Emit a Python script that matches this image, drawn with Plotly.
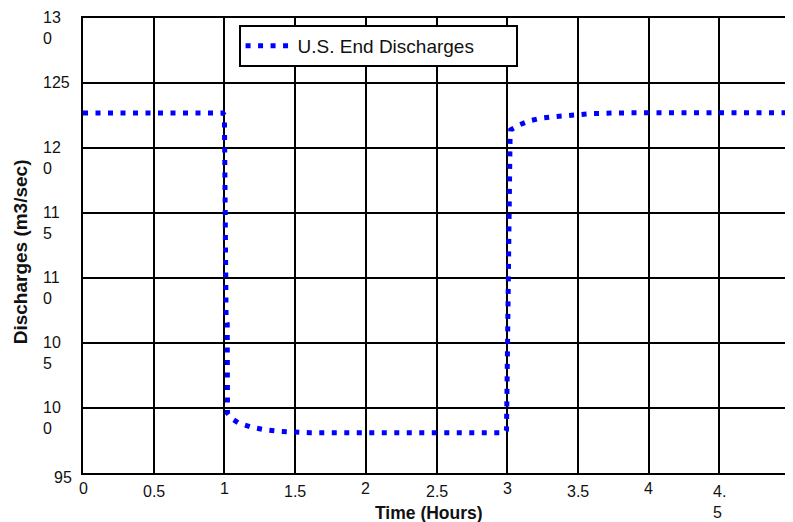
import plotly.graph_objects as go

# ---- data ----
time_hours = [0.0, 0.5, 0.99, 1.0, 1.004, 1.012, 1.02, 1.022, 1.05, 1.1, 1.2, 1.3, 1.4,
              1.5, 1.6, 2.0, 2.5, 2.985, 2.995, 3.0, 3.008, 3.016, 3.02, 3.025, 3.09, 3.16,
              3.24, 3.32, 3.41, 3.5, 3.6, 3.8, 4.0, 4.5, 5.0]
discharge = [122.7, 122.7, 122.7, 122.5, 107.5, 106.9, 106.5, 99.6, 99.2, 98.85, 98.5, 98.3, 98.2,
             98.13, 98.1, 98.1, 98.1, 98.1, 98.3, 104.0, 112.0, 120.0, 120.6, 121.4, 121.8, 122.1,
             122.3, 122.4, 122.5, 122.55, 122.65, 122.7, 122.72, 122.72, 122.72]

series_name = "U.S. End Discharges"
x_title = "Time (Hours)"
y_title = "Discharges (m3/sec)"

x_tick_vals = [0, 0.5, 1, 1.5, 2, 2.5, 3, 3.5, 4, 4.5, 5]
x_tick_text = ["0", "0.5", "1", "1.5", "2", "2.5", "3", "3.5", "4", "4.<br>5", "5"]
y_tick_vals = [95, 100, 105, 110, 115, 120, 125, 130]
y_tick_text = ["95", "10<br>0", "10<br>5", "11<br>0", "11<br>5", "12<br>0", "125", "13<br>0"]

FONT = "Liberation Sans, Arial, Helvetica, sans-serif"
PAGE = 8  # default body margin of the html page
W, H = 793 - PAGE, 522 - PAGE
ML, MR, MT, MB = 83 - PAGE, 1, 18 - PAGE, 49
PW, PH = W - ML - MR, H - MT - MB

fig = go.Figure()
fig.add_trace(go.Scatter(
    x=time_hours, y=discharge, mode="lines", name=series_name,
    line=dict(color="#0000FF", width=5, dash="5px,7.5px"),
    showlegend=True,
))

fig.update_layout(
    width=W, height=H, autosize=False,
    margin=dict(l=ML, r=MR, t=MT, b=MB),
    paper_bgcolor="white", plot_bgcolor="white",
    font=dict(family=FONT, color="black", size=16),
    showlegend=True,
    legend=dict(
        orientation="h",
        x=(239 - 83) / PW, y=1 - (25 - 18) / PH,
        xanchor="left", yanchor="top",
        bgcolor="white", bordercolor="black", borderwidth=2,
        font=dict(family=FONT, size=19, color="#111111"),
        itemwidth=47,
        entrywidth=213, entrywidthmode="pixels",
        tracegroupgap=0,
    ),
)

fig.update_xaxes(
    range=[0, 5], tickvals=x_tick_vals, showticklabels=False,
    showgrid=True, gridcolor="black", gridwidth=1.5,
    showline=True, linecolor="black", linewidth=2, mirror=True,
    zeroline=False, ticks="",
)
fig.update_yaxes(
    range=[95, 130], tickvals=y_tick_vals, showticklabels=False,
    showgrid=True, gridcolor="black", gridwidth=1.5,
    showline=True, linecolor="black", linewidth=2, mirror=True,
    zeroline=False, ticks="",
)

# y tick labels (wrapped, first line centred on gridline)
ymin = min(y_tick_vals)
for v, t in zip(y_tick_vals, y_tick_text):
    if v == ymin:
        fig.add_annotation(x=0, y=v, xref="paper", yref="y", text=t, showarrow=False,
                           xanchor="right", yanchor="middle", xshift=-9, yshift=-4,
                           font=dict(size=16, family=FONT, color="#111111"))
    else:
        fig.add_annotation(x=0, y=v, xref="paper", yref="y", text=t, showarrow=False,
                           xanchor="left", yanchor="top", align="left", xshift=-42, yshift=11,
                           font=dict(size=16, family=FONT, color="#111111"))

# x tick labels (half-hour labels sit slightly lower)
for v, t in zip(x_tick_vals, x_tick_text):
    half = abs(v - round(v)) > 1e-9
    fig.add_annotation(x=v, y=0, xref="x", yref="paper", text=t, showarrow=False,
                       xanchor="center", yanchor="top", align="left",
                       yshift=-8 if half else -5,
                       font=dict(size=16, family=FONT, color="#111111"))

# axis titles
fig.add_annotation(x=0.49, y=0, xref="paper", yref="paper", text="<b>%s</b>" % x_title,
                   showarrow=False, xanchor="center", yanchor="top", yshift=-28,
                   font=dict(size=17.5, family=FONT, color="#111111"))
fig.add_annotation(x=0, y=0.485, xref="paper", yref="paper", text="<b>%s</b>" % y_title,
                   showarrow=False, xanchor="center", yanchor="middle", xshift=-63,
                   textangle=-90, font=dict(size=19, family=FONT, color="#111111"))

fig.write_html("out.html")
